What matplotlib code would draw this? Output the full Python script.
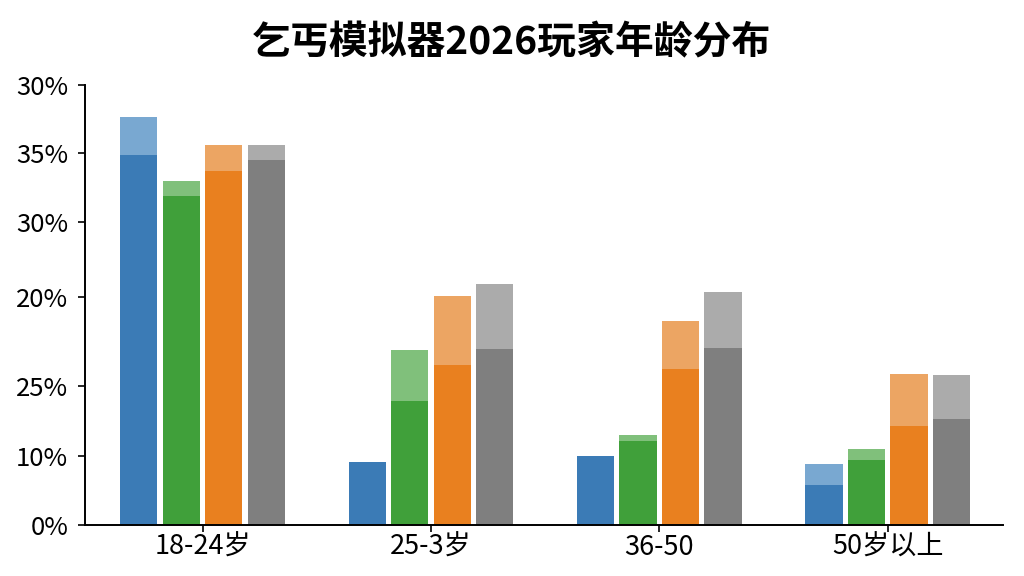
import matplotlib
matplotlib.use('Agg')
import matplotlib.pyplot as plt
import numpy as np

plt.rcParams['font.family'] = ['Noto Sans CJK SC', 'DejaVu Sans']

# age groups and the odd y tick labels as printed on the original
groups = ["18-24岁", "25-3岁", "36-50", "50岁以上"]
tick_pos = [0, 6.95, 13.95, 22.85, 30.35, 37.25, 44.05]
tick_labels = ["0%", "10%", "25%", "20%", "30%", "35%", "30%"]

# bar heights (dark part, full height incl. light top), per series
blue_dark = [37.1, 6.3, 6.9, 4.0]
blue_total = [40.9, 6.3, 6.9, 6.1]
green_dark = [33.0, 12.4, 8.4, 6.5]
green_total = [34.5, 17.5, 9.0, 7.6]
orange_dark = [35.5, 16.0, 15.6, 9.9]
orange_total = [38.1, 23.0, 20.4, 15.1]
gray_dark = [36.6, 17.6, 17.7, 10.6]
gray_total = [38.1, 24.2, 23.4, 15.0]

series = [
    (blue_dark, blue_total, "#3b7bb6", "#79a8d1"),
    (green_dark, green_total, "#40a03a", "#80c07b"),
    (orange_dark, orange_total, "#e9801f", "#eca563"),
    (gray_dark, gray_total, "#7f7f7f", "#ababab"),
]

fig = plt.figure(figsize=(10.24, 5.76), dpi=100)
ax = fig.add_axes([0.083, 0.0877, 0.8965, 0.7647])

x = np.arange(len(groups))
pitch = 0.186
width = 0.163
for i, (dark, total, c_dark, c_light) in enumerate(series):
    xs = x + (i - 1.5) * pitch
    dark = np.array(dark)
    total = np.array(total)
    ax.bar(xs, dark, width, color=c_dark, linewidth=0)
    ax.bar(xs, total - dark, width, bottom=dark, color=c_light, linewidth=0)

ax.set_xlim(-0.515, 3.505)
ax.set_ylim(0, 44.05)
ax.set_yticks(tick_pos)
ax.set_yticklabels(tick_labels, fontsize=18.5)
ax.set_xticks(x)
ax.set_xticklabels(groups, fontsize=19.5)
ax.tick_params(axis='y', length=5, width=1.2, pad=7)
ax.tick_params(axis='x', length=5, width=1.2, pad=1)

for s in ['top', 'right']:
    ax.spines[s].set_visible(False)
ax.spines['left'].set_linewidth(1.4)
ax.spines['bottom'].set_linewidth(1.4)

fig.text(0.4995, 0.926, "乞丐模拟器2026玩家年龄分布", ha='center', va='center',
         fontsize=28, fontweight='heavy')

plt.savefig("out.png", dpi=100)
